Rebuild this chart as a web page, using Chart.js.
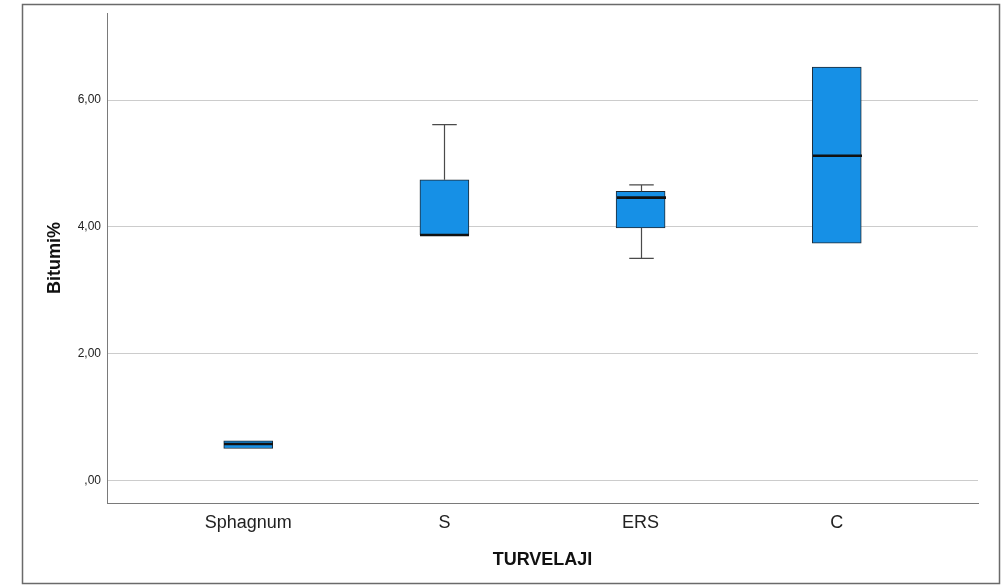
<!DOCTYPE html>
<html>
<head>
<meta charset="utf-8">
<title>Bitumi% — TURVELAJI</title>
<script src="https://cdn.jsdelivr.net/npm/chart.js@4.4.1/dist/chart.umd.min.js"></script>
<style>
  html, body { margin: 0; padding: 0; background: #ffffff; }
  #wrap { position: relative; width: 1002px; height: 586px; }
</style>
</head>
<body>
<div id="wrap"><canvas id="chart" width="1002" height="586"></canvas></div>
<script>
// Peat type categories and box plot statistics (Bitumi %)
const categories   = ['Sphagnum', 'S', 'ERS', 'C'];
const minValues    = [0.50, 3.87, 3.50, 3.74];
const q1Values     = [0.50, 3.87, 3.98, 3.74];
const medianValues = [0.57, 3.87, 4.46, 5.12];
const q3Values     = [0.62, 4.74, 4.56, 6.52];
const maxValues    = [0.62, 5.61, 4.66, 6.52];

const yTickValues = [0, 2, 4, 6];
const yTickLabels = [',00', '2,00', '4,00', '6,00'];
const xTickValues = [0, 1, 2, 3];

const FONT = "'Liberation Sans', Arial, sans-serif";
const BOX_WIDTH = 49;

// Outer frame around the whole figure
const framePlugin = {
  id: 'frame',
  beforeDraw(chart) {
    const ctx = chart.ctx;
    ctx.save();
    ctx.fillStyle = '#ffffff';
    ctx.fillRect(0, 0, chart.width, chart.height);
    ctx.strokeStyle = '#6a6a6a';
    ctx.lineWidth = 1.5;
    ctx.strokeRect(22.5, 4.5, 977, 579);
    ctx.restore();
  }
};

// Whiskers, caps and median lines drawn through the chart scales
const boxExtrasPlugin = {
  id: 'boxExtras',
  afterDatasetsDraw(chart) {
    const ctx = chart.ctx;
    const xs = chart.scales.x;
    const ys = chart.scales.y;
    ctx.save();
    categories.forEach((c, i) => {
      const cx = Math.round(xs.getPixelForValue(i)) + 0.5;
      const half = BOX_WIDTH / 2;
      const cap = BOX_WIDTH / 4;
      ctx.strokeStyle = '#4a4a4a';
      ctx.lineWidth = 1.2;
      // upper whisker
      if (maxValues[i] > q3Values[i]) {
        const yTop = ys.getPixelForValue(maxValues[i]);
        const yQ3 = ys.getPixelForValue(q3Values[i]);
        ctx.beginPath();
        ctx.moveTo(cx, yQ3); ctx.lineTo(cx, yTop);
        ctx.moveTo(cx - cap, yTop); ctx.lineTo(cx + cap, yTop);
        ctx.stroke();
      }
      // lower whisker
      if (minValues[i] < q1Values[i]) {
        const yBot = ys.getPixelForValue(minValues[i]);
        const yQ1 = ys.getPixelForValue(q1Values[i]);
        ctx.beginPath();
        ctx.moveTo(cx, yQ1); ctx.lineTo(cx, yBot);
        ctx.moveTo(cx - cap, yBot); ctx.lineTo(cx + cap, yBot);
        ctx.stroke();
      }
      // median
      const yMed = ys.getPixelForValue(medianValues[i]);
      ctx.strokeStyle = '#111111';
      ctx.lineWidth = 2.6;
      ctx.beginPath();
      ctx.moveTo(cx - half, yMed); ctx.lineTo(cx + half, yMed);
      ctx.stroke();
    });
    ctx.restore();
  }
};

new Chart(document.getElementById('chart'), {
  type: 'bar',
  data: {
    datasets: [{
      label: 'Bitumi%',
      data: categories.map((c, i) => ({ x: i, y: [q1Values[i], q3Values[i]] })),
      backgroundColor: '#1690e6',
      borderColor: '#1f2933',
      borderWidth: 1,
      borderSkipped: false,
      barThickness: BOX_WIDTH
    }]
  },
  options: {
    responsive: false,
    animation: false,
    events: [],
    layout: { padding: { left: 0, right: 24, top: 12, bottom: 0 } },
    plugins: {
      legend: { display: false },
      tooltip: { enabled: false }
    },
    scales: {
      x: {
        type: 'linear',
        min: -0.72,
        max: 3.72,
        offset: false,
        afterBuildTicks(scale) { scale.ticks = xTickValues.map(v => ({ value: v })); },
        afterFit(scale) { scale.height = 83; },
        grid: { display: false, offset: false, drawTicks: false },
        border: { display: true, color: '#7a7a7a', width: 1 },
        ticks: {
          padding: 9,
          color: '#222222',
          font: { family: FONT, size: 18 },
          maxRotation: 0,
          autoSkip: false,
          callback: (v) => categories[v]
        },
        title: {
          display: true,
          text: 'TURVELAJI',
          color: '#111111',
          font: { family: FONT, size: 18, weight: 'bold' },
          padding: { top: 0, bottom: 15 }
        }
      },
      y: {
        type: 'linear',
        min: -0.36,
        max: 7.37,
        afterBuildTicks(scale) { scale.ticks = yTickValues.map(v => ({ value: v })); },
        afterFit(scale) { scale.width = 107; },
        grid: {
          color: '#cccccc',
          lineWidth: 1,
          drawTicks: false
        },
        border: { display: true, color: '#7a7a7a', width: 1 },
        ticks: {
          padding: 6,
          color: '#222222',
          font: { family: FONT, size: 12 },
          callback: (v) => yTickLabels[yTickValues.indexOf(v)]
        },
        title: {
          display: true,
          text: 'Bitumi%',
          color: '#111111',
          font: { family: FONT, size: 18, weight: 'bold' },
          padding: { top: 44, bottom: 0 }
        }
      }
    }
  },
  plugins: [framePlugin, boxExtrasPlugin]
});
</script>
</body>
</html>
